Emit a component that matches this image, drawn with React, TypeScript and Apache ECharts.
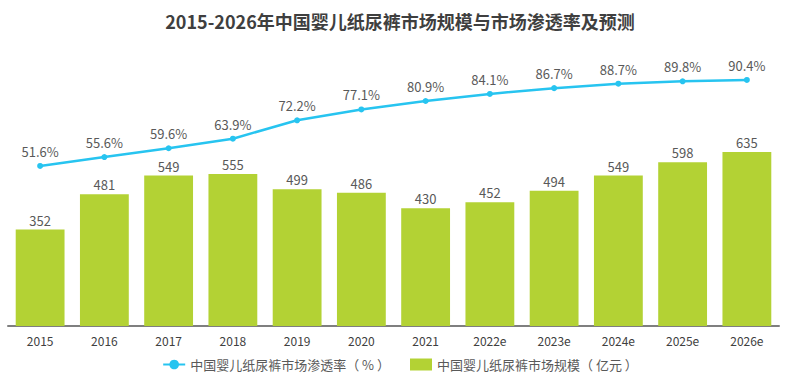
import React, { useEffect, useRef } from "react";
import * as echarts from "echarts";

const categories = ["2015", "2016", "2017", "2018", "2019", "2020", "2021", "2022e", "2023e", "2024e", "2025e", "2026e"];
const marketSize = [352, 481, 549, 555, 499, 486, 430, 452, 494, 549, 598, 635];
const penetration = [51.6, 55.6, 59.6, 63.9, 72.2, 77.1, 80.9, 84.1, 86.7, 88.7, 89.8, 90.4];
const titleText = "2015-2026年中国婴儿纸尿裤市场规模与市场渗透率及预测";
const lineName = "中国婴儿纸尿裤市场渗透率（ % ）";
const barName = "中国婴儿纸尿裤市场规模（ 亿元 ）";

const FONT = "'Noto Sans CJK SC', 'Noto Sans', sans-serif";

export default function App() {
  const ref = useRef<HTMLDivElement>(null);
  useEffect(() => {
    if (!ref.current) return;
    const chart = echarts.init(ref.current, undefined, { renderer: "svg" });
    chart.setOption({
      animation: false,
      backgroundColor: "#ffffff",
      textStyle: { fontFamily: FONT },
      title: {
        text: titleText,
        left: "center",
        top: 7,
        textStyle: { fontSize: 18, fontWeight: "bold", color: "#3f3f3f", fontFamily: FONT },
      },
      legend: {
        bottom: 6,
        left: "center",
        itemGap: 20,
        itemWidth: 22,
        itemHeight: 12,
        textStyle: { fontSize: 13, color: "#595959", fontFamily: FONT },
        data: [{ name: lineName }, { name: barName, icon: "rect" }],
      },
      grid: { left: 8, right: 21, top: 60, bottom: 56, containLabel: false },
      xAxis: {
        type: "category",
        data: categories,
        axisLine: { lineStyle: { color: "#7f7f7f", width: 2 } },
        axisTick: { show: false },
        axisLabel: { color: "#404040", fontSize: 12, margin: 8, fontFamily: FONT },
      },
      yAxis: [
        { type: "value", min: 0, max: 971, show: false, splitLine: { show: false } },
        { type: "value", min: -20.6, max: 99.4, show: false, splitLine: { show: false } },
      ],
      series: [
        {
          name: barName,
          type: "bar",
          yAxisIndex: 0,
          data: marketSize,
          barWidth: "76%",
          itemStyle: { color: "#b3d234" },
          label: { show: true, position: "top", distance: 3, fontSize: 13, color: "#595959", fontFamily: FONT },
        },
        {
          name: lineName,
          type: "line",
          yAxisIndex: 1,
          data: penetration,
          symbol: "circle",
          symbolSize: 6,
          lineStyle: { color: "#27c4f0", width: 2.5 },
          itemStyle: { color: "#27c4f0" },
          label: {
            show: true,
            position: "top",
            distance: 5,
            fontSize: 13,
            color: "#595959",
            fontFamily: FONT,
            formatter: (p: any) => p.value.toFixed(1) + "%",
          },
        },
      ],
    });
    return () => chart.dispose();
  }, []);
  return <div ref={ref} style={{ position: "absolute", left: 0, top: 0, width: 800, height: 382 }} />;
}
